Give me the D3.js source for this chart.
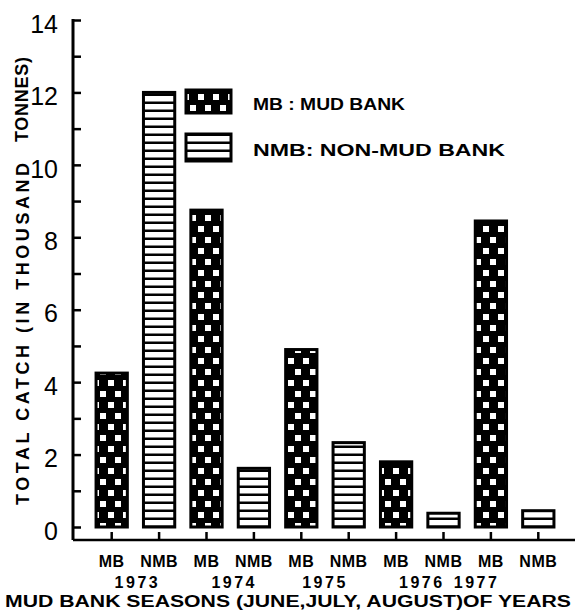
<!DOCTYPE html>
<html lang="en">
<head>
<meta charset="UTF-8">
<title>Mud bank catch</title>
<script src="https://d3js.org/d3.v7.min.js"></script>
<style>
    body { margin: 0; background: #fff; }
    svg text { font-family: "Liberation Sans", Arial, sans-serif; fill: #000; }
</style>
</head>
<body>
<div id="chart"></div>
<script>
    // data (thousand tonnes)
    const years = ["1973", "1974", "1975", "1976", "1977"];
    const kinds = ["MB", "NMB"];
    const mbCatch = [4.25, 8.75, 4.9, 1.8, 8.45];
    const nmbCatch = [12.0, 1.62, 2.33, 0.38, 0.45];
    const yTicks = [0, 2, 4, 6, 8, 10, 12, 14];
    const legendLabels = ["MB : MUD BANK", "NMB: NON-MUD BANK"];

    const width = 575, height = 613;

    const bars = [];
    years.forEach((yr, i) => {
        bars.push({ key: yr + "MB", year: yr, kind: kinds[0], value: mbCatch[i] });
        bars.push({ key: yr + "NMB", year: yr, kind: kinds[1], value: nmbCatch[i] });
    });

    const svg = d3.select("#chart").append("svg")
        .attr("width", width)
        .attr("height", height);

    // patterns
    const defs = svg.append("defs");
    const dots = defs.append("pattern")
        .attr("id", "dots")
        .attr("patternUnits", "userSpaceOnUse")
        .attr("width", 15).attr("height", 22)
        .attr("x", 1).attr("y", 3);
    dots.append("rect").attr("width", 15).attr("height", 22).attr("fill", "#000");
    dots.append("rect").attr("x", 2).attr("y", 3).attr("width", 6).attr("height", 6).attr("fill", "#fff");
    dots.append("rect").attr("x", 9).attr("y", 14).attr("width", 6).attr("height", 6).attr("fill", "#fff");

    const stripes = defs.append("pattern")
        .attr("id", "stripes")
        .attr("patternUnits", "userSpaceOnUse")
        .attr("width", 10).attr("height", 8);
    stripes.append("rect").attr("width", 10).attr("height", 8).attr("fill", "#fff");
    stripes.append("rect").attr("y", 5.5).attr("width", 10).attr("height", 2.5).attr("fill", "#000");

    // scales
    const x = d3.scaleBand()
        .domain(bars.map(d => d.key))
        .range([88, 562])
        .paddingInner(0.34)
        .paddingOuter(0.17);
    const y = d3.scaleLinear().domain([0, 14]).range([527, 20]);

    const axisX = 73, baseY = 540;

    // y axis
    const yAxis = d3.axisRight(y)
        .ticks(14)
        .tickSize(8)
        .tickFormat("");
    const gy = svg.append("g")
        .attr("transform", `translate(${axisX},0)`)
        .call(yAxis);
    gy.select(".domain").remove();
    gy.selectAll(".tick line").attr("stroke", "#000").attr("stroke-width", 2.5);
    svg.append("line")
        .attr("x1", axisX).attr("x2", axisX)
        .attr("y1", y(14) - 1).attr("y2", baseY)
        .attr("stroke", "#000").attr("stroke-width", 3);

    svg.append("g").selectAll("text")
        .data(yTicks)
        .join("text")
        .attr("x", axisX - 15)
        .attr("y", d => y(d) + 4)
        .attr("dy", "0.35em")
        .attr("text-anchor", "end")
        .attr("font-size", 25)
        .text(d => d);

    // x axis
    svg.append("line")
        .attr("x1", axisX).attr("x2", width)
        .attr("y1", baseY).attr("y2", baseY)
        .attr("stroke", "#000").attr("stroke-width", 2.5);
    svg.append("g").selectAll("line")
        .data(bars)
        .join("line")
        .attr("x1", d => x(d.key) + x.bandwidth() / 2)
        .attr("x2", d => x(d.key) + x.bandwidth() / 2)
        .attr("y1", baseY).attr("y2", baseY - 8)
        .attr("stroke", "#000").attr("stroke-width", 2.5);

    // bars
    svg.append("g").selectAll("rect")
        .data(bars)
        .join("rect")
        .attr("x", d => x(d.key))
        .attr("y", d => y(d.value))
        .attr("width", x.bandwidth())
        .attr("height", d => y(0) - y(d.value))
        .attr("fill", d => d.kind === "MB" ? "url(#dots)" : "url(#stripes)")
        .attr("stroke", "#000")
        .attr("stroke-width", 3);

    // category labels
    svg.append("g").selectAll("text")
        .data(bars)
        .join("text")
        .attr("x", d => x(d.key) + x.bandwidth() / 2)
        .attr("y", 561)
        .attr("dy", "0.35em")
        .attr("text-anchor", "middle")
        .attr("font-size", 16)
        .attr("font-weight", "bold")
        .attr("letter-spacing", 0.5)
        .text(d => d.kind);

    // year labels (the last one sits further left in the original lettering)
    const yearNudge = [2, 4, 0, 2, -38];
    svg.append("g").selectAll("text")
        .data(years)
        .join("text")
        .attr("x", (d, i) => (x(d + "MB") + x(d + "NMB")) / 2 + x.bandwidth() / 2 + yearNudge[i])
        .attr("y", 582)
        .attr("dy", "0.35em")
        .attr("text-anchor", "middle")
        .attr("font-size", 16)
        .attr("font-weight", "bold")
        .attr("letter-spacing", 2.5)
        .text(d => d);

    svg.append("text")
        .attr("x", 5)
        .attr("y", 601)
        .attr("dy", "0.35em")
        .attr("font-size", 16)
        .attr("font-weight", "bold")
        .attr("textLength", 566)
        .attr("lengthAdjust", "spacingAndGlyphs")
        .text("MUD BANK SEASONS (JUNE,JULY, AUGUST)OF YEARS");

    // y axis title
    svg.append("text")
        .attr("transform", "translate(23,505) rotate(-90)")
        .attr("dy", "0.35em")
        .attr("font-size", 18)
        .attr("font-weight", "bold")
        .attr("textLength", 342)
        .attr("lengthAdjust", "spacing")
        .text("TOTAL CATCH (IN THOUSAND");
    svg.append("text")
        .attr("transform", "translate(22,142) rotate(-90)")
        .attr("dy", "0.35em")
        .attr("font-size", 18)
        .attr("font-weight", "bold")
        .attr("textLength", 85)
        .attr("lengthAdjust", "spacing")
        .text("TONNES)");

    // legend
    const legend = svg.append("g");
    const legendRows = [
        { label: legendLabels[0], fill: "url(#dots)", y: 90, h: 23, textW: 152 },
        { label: legendLabels[1], fill: "url(#stripes)", y: 134, h: 27, textW: 252 }
    ];
    legendRows.forEach(r => {
        legend.append("rect")
            .attr("x", 186).attr("y", r.y)
            .attr("width", 45).attr("height", r.h)
            .attr("fill", r.fill)
            .attr("stroke", "#000").attr("stroke-width", 3);
        legend.append("text")
            .attr("x", 253)
            .attr("y", r.y + r.h / 2 + 3)
            .attr("dy", "0.35em")
            .attr("font-size", 16)
            .attr("font-weight", "bold")
            .attr("textLength", r.textW)
            .attr("lengthAdjust", "spacingAndGlyphs")
            .text(r.label);
    });
</script>
</body>
</html>
